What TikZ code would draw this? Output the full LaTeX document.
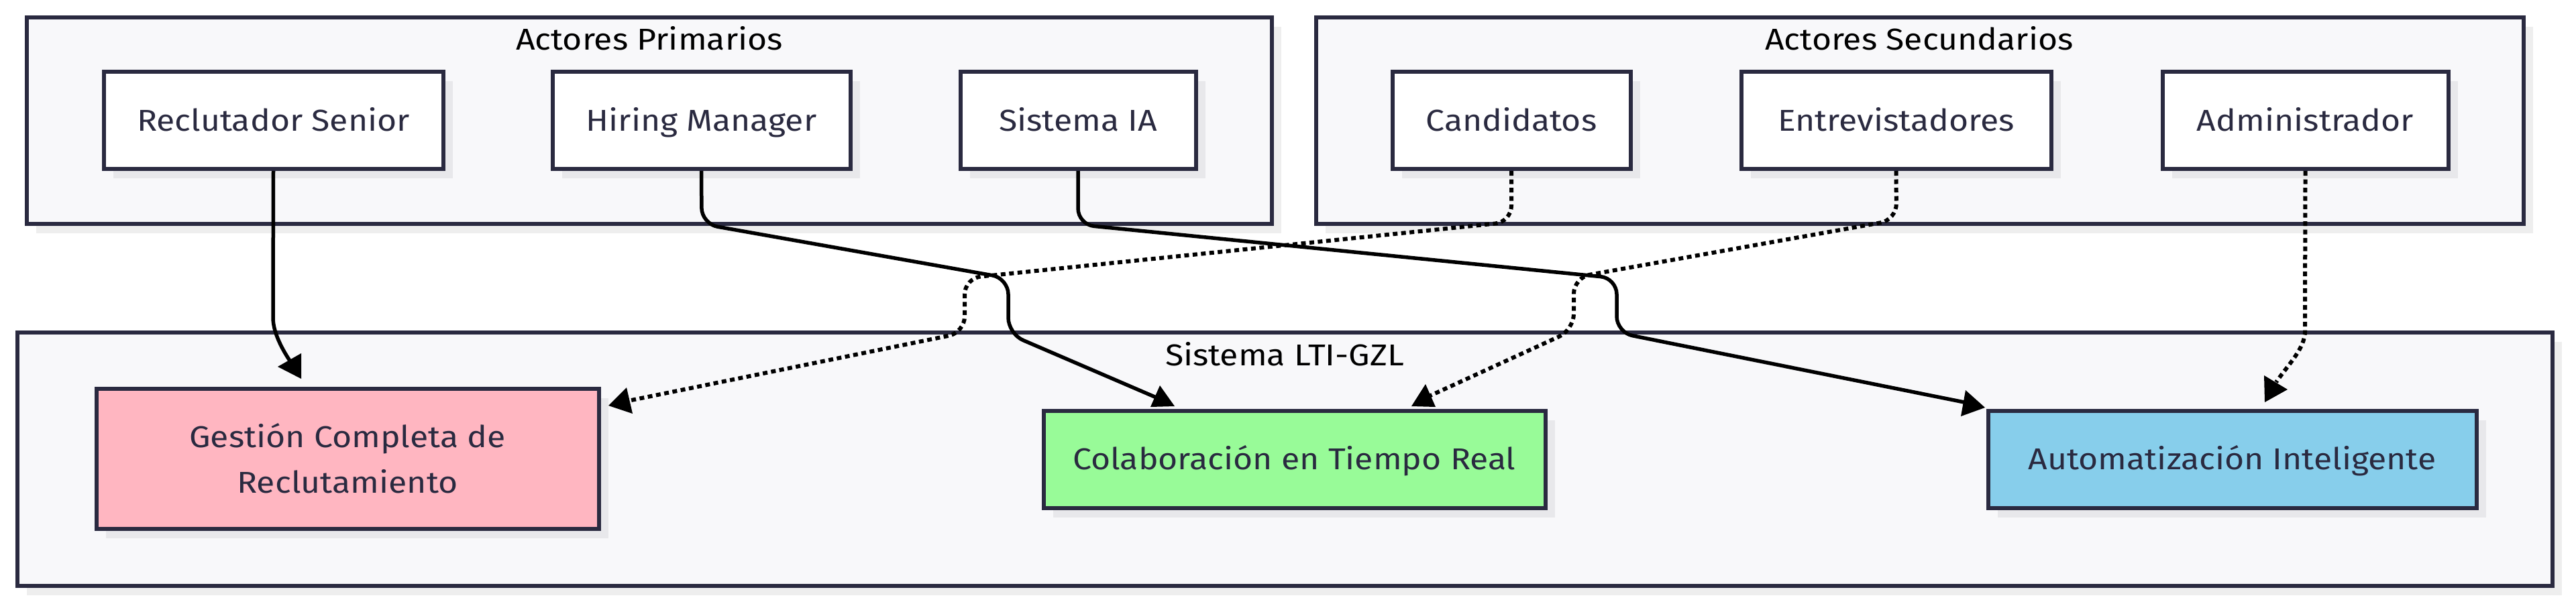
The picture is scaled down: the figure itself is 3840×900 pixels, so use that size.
\documentclass[tikz,border=0pt]{standalone}
\usepackage{fontspec}
\setmainfont{Fira Sans}[FakeStretch=1.11]
\usetikzlibrary{shadows}
\definecolor{bordc}{HTML}{2A2A40}
\definecolor{clfill}{HTML}{F8F8FA}
\definecolor{clshadow}{HTML}{EEEEEE}
\definecolor{ndshadow}{HTML}{E8E8EB}
\definecolor{pinkf}{HTML}{FFB6C1}
\definecolor{greenf}{HTML}{98FB98}
\definecolor{bluef}{HTML}{87CEEB}
\definecolor{txt}{HTML}{2A2A40}
\begin{document}
\begin{tikzpicture}[x=1pt,y=-1pt,
  cluster/.style={draw=bordc, line width=6pt, fill=clfill, inner sep=0pt,
    drop shadow={shadow xshift=14pt, shadow yshift=-14pt, fill=clshadow, opacity=1}},
  cltitle/.style={inner sep=0pt, text=black, font=\fontsize{45}{54}\selectfont},
  actor/.style={draw=bordc, line width=6pt, fill=white, text=txt, inner sep=0pt,
    minimum height=145pt, text height=31pt, text depth=0pt,
    font=\fontsize{45}{54}\selectfont,
    drop shadow={shadow xshift=14pt, shadow yshift=-14pt, fill=ndshadow, opacity=1}},
  usecase/.style={draw=bordc, line width=6pt, text=txt, inner sep=0pt,
    font=\fontsize{45}{68}\selectfont,
    drop shadow={shadow xshift=14pt, shadow yshift=-14pt, fill=ndshadow, opacity=1}},
  solidedge/.style={line width=5.5pt, black, rounded corners=24pt},
  dotedge/.style={line width=6pt, black, dash pattern=on 7pt off 5.5pt, rounded corners=24pt},
  ahead/.style={fill=black}
]
\fill[white] (0,0) rectangle (3840,900);
\useasboundingbox (0,0) rectangle (3840,900);

% clusters
\node[cluster, minimum width=1856pt, minimum height=308pt] (prim) at (968,180) {};
\node[cluster, minimum width=1800pt, minimum height=308pt] (sec) at (2862,180) {};
\node[cluster, minimum width=3779pt, minimum height=378pt] (sys) at (1915.5,685) {};

\node[cltitle, anchor=base] (tprim) at (968,74) {Actores Primarios};
\node[cltitle, anchor=base] (tsec) at (2861,74) {Actores Secundarios};
\node[cltitle, anchor=base] (tsys) at (1915,545) {Sistema LTI-GZL};

% actors
\node[actor, minimum width=506pt] (rs) at (407.5,179.5) {Reclutador Senior};
\node[actor, minimum width=444pt] (hm) at (1045.5,179.5) {Hiring Manager};
\node[actor, minimum width=351pt] (sia) at (1607,179.5) {Sistema IA};
\node[actor, minimum width=355pt] (cand) at (2253,179.5) {Candidatos};
\node[actor, minimum width=462pt] (entr) at (2826.5,179.5) {Entrevistadores};
\node[actor, minimum width=426pt] (adm) at (3436.5,179.5) {Administrador};

% use cases
\node[usecase, fill=pinkf, minimum width=749pt, minimum height=209pt, align=center] (ges) at (518,684) {Gestión Completa de\\Reclutamiento};
\node[usecase, fill=greenf, minimum width=748pt, minimum height=145pt, text height=31pt, text depth=0pt] (col) at (1929.5,685) {Colaboración en Tiempo Real};
\node[usecase, fill=bluef, minimum width=728pt, minimum height=145pt, text height=31pt, text depth=0pt] (aut) at (3327.5,685) {Automatización Inteligente};

% connector ends
\coordinate (e1end) at (432,538);
\coordinate (e2end) at (1726,594);
\coordinate (e3end) at (2928,600);
\coordinate (e4end) at (936,598);
\coordinate (e5end) at (2128,592);
\coordinate (e6end) at (3393,570);

% connectors
\draw[solidedge] (rs.south) -- (407,450) .. controls (407,495) and (420,520) .. (e1end);
\draw[solidedge] (hm.south) -- (1046,334) -- (1503,415) -- (1503,498) -- (e2end);
\draw[solidedge] (sia.south) -- (1607,335) -- (2410,415) -- (2410,496) -- (e3end);
\draw[dotedge] (cand.south) -- (2253,331) -- (1438,415) -- (1438,496) -- (e4end);
\draw[dotedge] (entr.south) -- (2827,328) -- (2346,414) -- (2346,492) -- (e5end);
\draw[dotedge] (adm.south) -- (3436,470) .. controls (3436,520) and (3410,545) .. (e6end);

% arrowheads
\fill[ahead] (414,547) -- (449,527) -- (449,565) -- cycle;
\fill[ahead] (1729,575) -- (1715,607) -- (1751,606) -- cycle;
\fill[ahead] (2930,582) -- (2959,608) -- (2923,621) -- cycle;
\fill[ahead] (907,605) -- (934,578) -- (943,617) -- cycle;
\fill[ahead] (2125,573) -- (2104,606) -- (2140,607) -- cycle;
\fill[ahead] (3375,560) -- (3410,581) -- (3376,600) -- cycle;
\end{tikzpicture}
\end{document}
